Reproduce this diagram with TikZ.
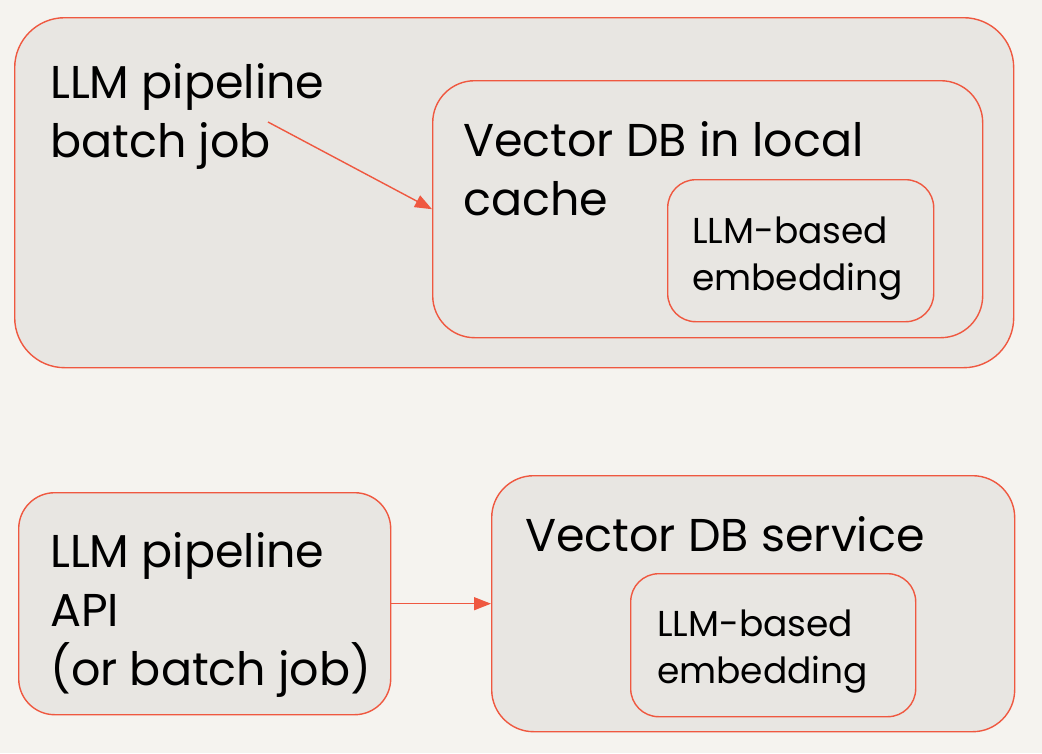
\documentclass[tikz,border=0pt]{standalone}
\usepackage{fontspec}
\setmainfont{Poppins}
\usetikzlibrary{arrows.meta, positioning}
\definecolor{paper}{HTML}{F5F3EF}
\definecolor{boxgray}{HTML}{E8E6E2}
\definecolor{edge}{HTML}{EF5840}
\begin{document}
\begin{tikzpicture}[x=1pt, y=-1pt,
    every node/.style={align=left},
    arrow/.style={-{Triangle[length=17pt, width=13pt]}, edge, line width=1.4pt},
    box/.style={
        draw=edge,
        line width=1.4pt,
        fill=boxgray,
        anchor=north west,
        inner sep=0pt
    },
    bigtext/.style={inner sep=0pt, anchor=base west, font=\fontsize{46}{59}\selectfont},
    smalltext/.style={inner sep=0pt, anchor=base west, font=\fontsize{36}{47}\selectfont}]

    % Page
    \fill[paper] (0,0) rectangle (1042,753);
    \useasboundingbox (0,0) rectangle (1042,753);

    % Upper group: batch job with local vector DB
    \node[box, rounded corners=50pt, minimum width=999pt, minimum height=350pt] (outer) at (14,17) {};
    \node[box, rounded corners=42pt, minimum width=550pt, minimum height=257pt] (local) at (432,80) {};
    \node[box, rounded corners=28pt, minimum width=266pt, minimum height=142pt] (embA) at (667,179) {};

    % (base anchor sits on the last line)
    \node[bigtext] (batch) at (50,157) {LLM pipeline\\batch job};
    \node[bigtext] (localtxt) at (463,215) {Vector DB in local\\cache};
    \node[smalltext] (embAtxt) at (692,290) {LLM-based\\embedding};

    \coordinate (jobend) at (268,122);
    \draw[arrow] (jobend) -- (local.west);

    % Lower group: API with vector DB service
    \node[box, rounded corners=36pt, minimum width=372pt, minimum height=222pt] (api) at (18,492) {};
    \node[box, rounded corners=42pt, minimum width=523pt, minimum height=256pt] (service) at (491,475) {};
    \node[box, rounded corners=28pt, minimum width=285pt, minimum height=143pt] (embB) at (630,573) {};

    \node[bigtext] (apitxt) at (50,685) {LLM pipeline\\API\\(or batch job)};
    \node[bigtext] (servicetxt) at (525,551) {Vector DB service};
    \node[smalltext] (embBtxt) at (657,683) {LLM-based\\embedding};

    \draw[arrow] (api.east) -- (service.west);

\end{tikzpicture}
\end{document}
